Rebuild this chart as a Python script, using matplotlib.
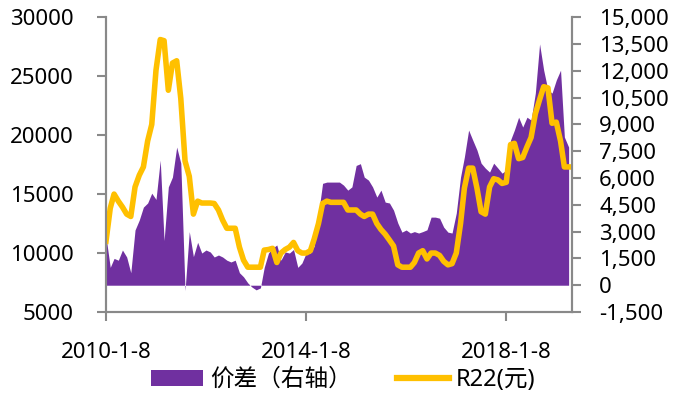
import matplotlib
matplotlib.use("Agg")
import matplotlib.pyplot as plt
from matplotlib.lines import Line2D
from matplotlib.patches import Patch
from matplotlib.ticker import FuncFormatter
import pandas as pd

plt.rcParams["font.family"] = ["Noto Sans", "Noto Sans CJK SC", "DejaVu Sans"]

# monthly observations, first trading week of each month
dates = pd.date_range("2010-01-08", periods=112, freq=pd.DateOffset(months=1))

r22 = [
    11000, 13800, 15000, 14400, 13900, 13300, 13100, 15600, 16600, 17300, 19500, 20900,
    25500, 28100, 28000, 23800, 26100, 26300, 23100, 17800, 16500, 13300, 14400, 14240,
    14240, 14240, 14200, 13650, 12800, 12100, 12100, 12100, 10500, 9400, 8800, 8800,
    8800, 8800, 10250, 10300, 10400, 9200, 10000, 10300, 10500, 10900, 10200, 10000,
    10000, 10200, 11200, 12500, 14200, 14400, 14300, 14300, 14300, 14300, 13650, 13650,
    13650, 13300, 13100, 13300, 13300, 12500, 12000, 11600, 11100, 10600, 9000, 8800,
    8800, 8800, 9200, 10000, 10200, 9500, 10000, 10000, 9800, 9300, 9000, 9100,
    10000, 12500, 15500, 17200, 17200, 15500, 13500, 13300, 15600, 16300, 16200, 15900,
    16000, 19200, 19300, 18000, 18100, 19000, 19800, 21800, 23000, 24100, 24000, 21000,
    21100, 19500, 17300, 17300,
]

spread = [
    2700, 1000, 1500, 1400, 1970, 1580, 700, 3090, 3650, 4370, 4600, 5150,
    4800, 7000, 2500, 5500, 6050, 7730, 6830, -300, 3000, 1600, 2400, 1800,
    1970, 1860, 1580, 1690, 1580, 1400, 1300, 1400, 700, 470, 130, -100,
    -260, -150, 1000, 1800, 2080, 2250, 1400, 1860, 1800, 2000, 1000, 1240,
    1800, 1800, 2200, 4000, 5700, 5770, 5770, 5770, 5770, 5600, 5320, 5500,
    6700, 6800, 6050, 5880, 5500, 4930, 5320, 4650, 4600, 4200, 3480, 2970,
    3090, 2920, 3000, 2920, 3000, 3100, 3810, 3810, 3750, 3250, 2970, 2920,
    4040, 6050, 7170, 8680, 8120, 7560, 6830, 6550, 6330, 6830, 6550, 6270,
    6440, 8120, 8680, 9400, 8850, 9400, 9240, 10750, 13500, 12030, 10920, 10750,
    11480, 12030, 8290, 7730,
]

left_ticks = [5000, 10000, 15000, 20000, 25000, 30000]
right_ticks = [-1500, 0, 1500, 3000, 4500, 6000, 7500, 9000, 10500, 12000, 13500, 15000]
date_ticks = ["2010-01-08", "2014-01-08", "2018-01-08"]
date_labels = ["2010-1-8", "2014-1-8", "2018-1-8"]

purple = "#7030A0"
gold = "#FFC000"
grey = "#898989"

fig = plt.figure(figsize=(6.73, 3.98), dpi=100)
ax = fig.add_axes([0.1575, 0.216, 0.6925, 0.741])
ax2 = ax.twinx()
ax2.set_zorder(ax.get_zorder() - 1)
ax.patch.set_visible(False)

ax2.fill_between(dates, 0, spread, color=purple, linewidth=0)
ax.plot(dates, r22, color=gold, linewidth=4, solid_joinstyle="round")

ax.set_ylim(5000, 30000)
ax.set_yticks(left_ticks)
ax2.set_ylim(-1500, 15000)
ax2.set_yticks(right_ticks)
ax2.yaxis.set_major_formatter(FuncFormatter(lambda v, _: f"{v:,.0f}"))

ax.set_xlim(pd.Timestamp("2010-01-08"), pd.Timestamp("2019-05-03"))
ax.set_xticks(pd.to_datetime(date_ticks))
ax.set_xticklabels(date_labels)

for a in (ax, ax2):
    a.spines["top"].set_visible(False)
    for side in ("left", "right", "bottom"):
        a.spines[side].set_color(grey)
        a.spines[side].set_linewidth(1.5)
    a.tick_params(colors=grey, labelcolor="black", labelsize=16, width=1.5, length=6.5)
ax.tick_params(axis="x", pad=15)
ax.tick_params(axis="y", pad=17)
ax2.tick_params(axis="y", pad=13)

handles = [
    Patch(facecolor=purple, edgecolor="none"),
    Line2D([], [], color=gold, linewidth=4.5),
]
fig.legend(handles, ["价差（右轴）", "R22(元)"], loc="center",
           bbox_to_anchor=(0.51, 0.045), ncol=2, frameon=False, fontsize=17,
           handlelength=2.2, handleheight=0.65, columnspacing=1.9, handletextpad=0.3,
           borderpad=0, borderaxespad=0)

fig.savefig("out.png", dpi=100)
